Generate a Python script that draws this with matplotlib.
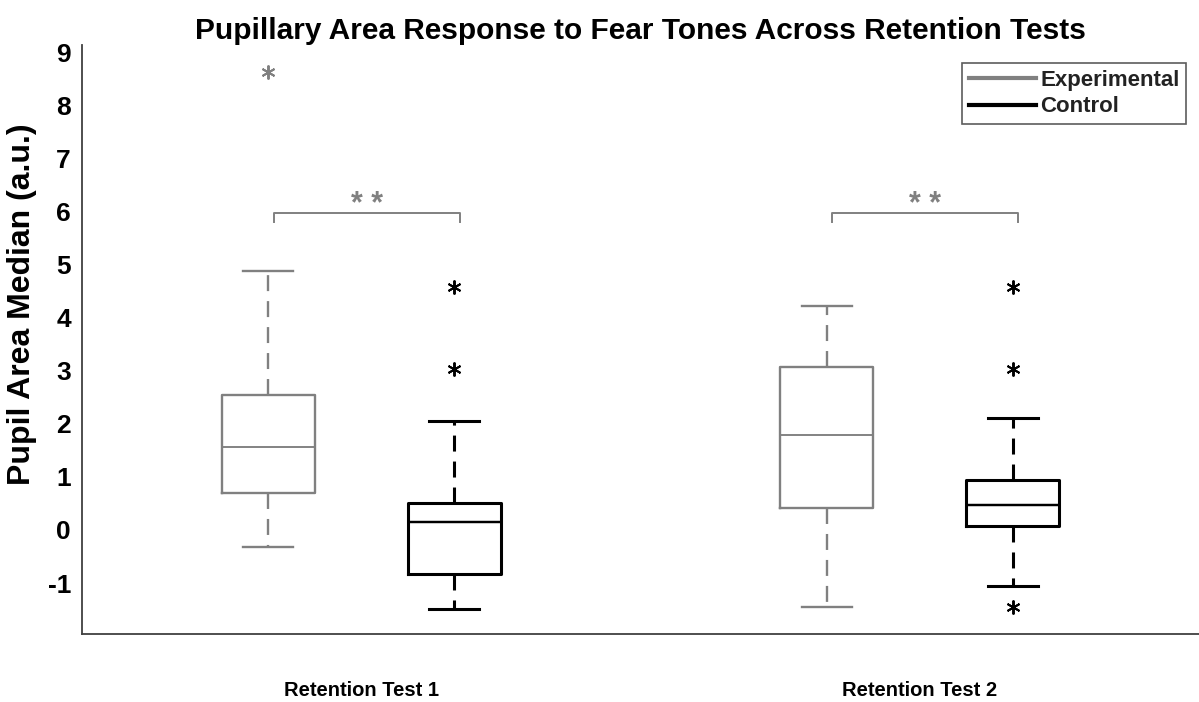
import matplotlib.pyplot as plt

plt.rcParams['font.family'] = ['Liberation Sans', 'DejaVu Sans']
plt.rcParams['axes.unicode_minus'] = False

groups = ['Retention Test 1', 'Retention Test 2']
series = ['Experimental', 'Control']

# box stats: whislo, q1, med, q3, whishi, outliers
exp_lo = [-0.32, -1.45]
exp_q1 = [0.70, 0.42]
exp_med = [1.57, 1.79]
exp_q3 = [2.55, 3.08]
exp_hi = [4.89, 4.23]
exp_fl = [[8.64], []]

ctl_lo = [-1.49, -1.06]
ctl_q1 = [-0.83, 0.08]
ctl_med = [0.15, 0.47]
ctl_q3 = [0.51, 0.94]
ctl_hi = [2.06, 2.11]
ctl_fl = [[4.58, 3.04], [4.58, 3.04, -1.45]]

sig_y = 5.98
sig_text = '* *'

gray = '#808080'
black = '#000000'

def stats(lo, q1, med, q3, hi, fl):
    return [dict(whislo=a, q1=b, med=c, q3=d, whishi=e, fliers=f)
            for a, b, c, d, e, f in zip(lo, q1, med, q3, hi, fl)]

fig = plt.figure(figsize=(11.99, 7.02), dpi=100)
ax = fig.add_axes([0.0684, 0.097, 0.9316, 0.839])

exp_pos = [1, 4]
ctl_pos = [2, 5]
ast = (6, 2, 0)

for pos, st, col, lw in [(exp_pos, stats(exp_lo, exp_q1, exp_med, exp_q3, exp_hi, exp_fl), gray, 1.7),
                         (ctl_pos, stats(ctl_lo, ctl_q1, ctl_med, ctl_q3, ctl_hi, ctl_fl), black, 2.2)]:
    ax.bxp(st, positions=pos, widths=0.5, capwidths=0.27, manage_ticks=False,
           boxprops=dict(color=col, linewidth=lw),
           medianprops=dict(color=col, linewidth=lw * 0.8),
           whiskerprops=dict(color=col, linewidth=lw, linestyle=(0, (11.5 / lw, 7.2 / lw))),
           capprops=dict(color=col, linewidth=lw),
           flierprops=dict(marker=ast, markersize=10, markeredgecolor=col,
                           markerfacecolor=col, markeredgewidth=1.4, linestyle='none'))

# significance brackets
for e, c in zip(exp_pos, ctl_pos):
    x0, x1 = e + 0.03, c + 0.03
    ax.plot([x0, x0, x1, x1], [sig_y - 0.17, sig_y, sig_y, sig_y - 0.17],
            color=gray, linewidth=1.4)
    ax.text((x0 + x1) / 2, sig_y, sig_text, ha='center', va='baseline',
            color=gray, fontsize=22, fontweight='bold')

ax.set_xlim(0, 6)
ax.set_ylim(-1.96, 9.15)
ax.set_yticks(range(-1, 10))
ax.set_xticks([1.5, 4.5])
ax.set_xticklabels(groups, fontsize=14.5, fontweight='bold')
ax.tick_params(axis='x', length=0, pad=34)
ax.tick_params(axis='y', length=0, pad=8, labelsize=19)
for lab in ax.get_yticklabels():
    lab.set_fontweight('bold')
ax.spines['top'].set_visible(False)
ax.spines['right'].set_visible(False)
ax.spines['left'].set_color('#404040')
ax.spines['bottom'].set_color('#404040')
ax.spines['left'].set_linewidth(1.3)
ax.spines['bottom'].set_linewidth(1.3)

ax.set_ylabel('Pupil Area Median (a.u.)', fontsize=23, fontweight='bold')
ax.yaxis.set_label_coords(-0.040, 0.559)
ax.set_title('Pupillary Area Response to Fear Tones Across Retention Tests',
             fontsize=21.5, fontweight='bold', pad=4)

h1, = ax.plot([], [], color=gray, linewidth=3)
h2, = ax.plot([], [], color=black, linewidth=3)
leg = ax.legend([h1, h2], series, loc='upper right', bbox_to_anchor=(0.9884, 0.9694),
                prop=dict(size=16, weight='bold'), handlelength=3.0, handletextpad=0.2,
                fancybox=False, edgecolor='#333333', borderpad=0.3, labelspacing=0.25,
                borderaxespad=0, handleheight=0.6)
leg.get_frame().set_linewidth(1.2)
for t in leg.get_texts():
    t.set_color('#222222')

fig.savefig('out.png', dpi=100)
